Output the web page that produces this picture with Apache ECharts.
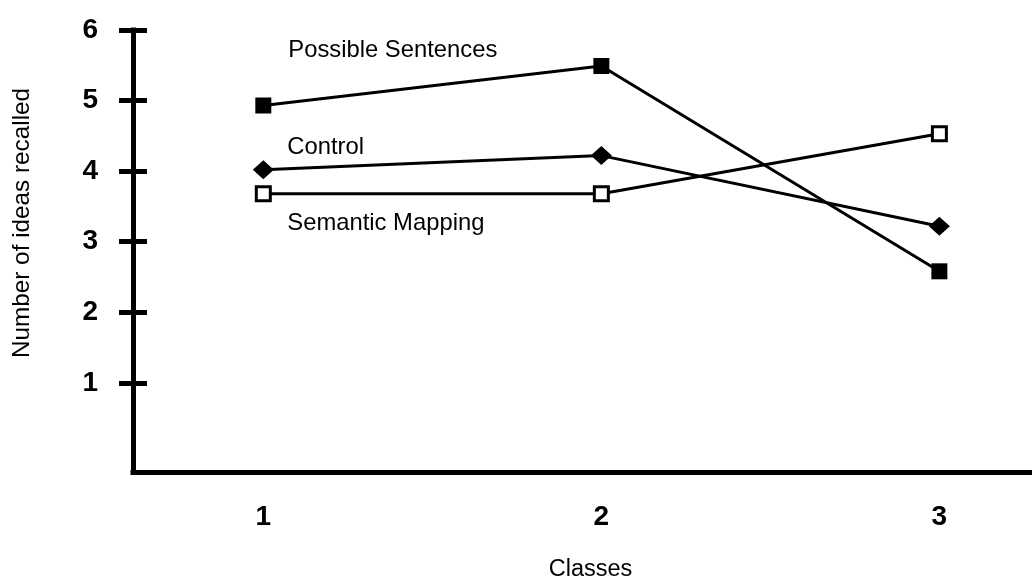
<!DOCTYPE html>
<html>
<head>
<meta charset="utf-8">
<script src="https://cdn.jsdelivr.net/npm/echarts@6/dist/echarts.min.js"></script>
<style>
html,body{margin:0;padding:0;background:#fff;}
#chart{width:1032px;height:587px;}
</style>
</head>
<body>
<div id="chart"></div>
<script>
// Data
var classes = [1, 2, 3];
var yTicks = [1, 2, 3, 4, 5, 6];
var seriesNames = ['Possible Sentences', 'Control', 'Semantic Mapping'];
var possibleSentences = [4.93, 5.49, 2.58];
var control = [4.02, 4.22, 3.22];
var semanticMapping = [3.68, 3.68, 4.53];

var FONT = '"Liberation Sans", Arial, Helvetica, sans-serif';

function build(values, name, labelOffset) {
  return values.map(function (v, i) {
    var item = { value: [classes[i], v] };
    if (i === 0) {
      item.label = {
        show: true,
        formatter: name,
        position: 'inside',
        align: 'left',
        verticalAlign: 'middle',
        offset: labelOffset,
        color: '#000',
        fontSize: 23.8,
        fontFamily: FONT
      };
    }
    return item;
  });
}

var chart = echarts.init(document.getElementById('chart'));
var option = {
  animation: false,
  backgroundColor: '#fff',
  grid: { left: 133, right: 0, top: 30, bottom: 106, containLabel: false },
  xAxis: {
    type: 'value',
    min: 0.6145,
    max: 3.274,
    splitLine: { show: false },
    axisTick: { show: false },
    axisLine: { show: true, onZero: false, lineStyle: { color: '#000', width: 5, cap: 'square' } },
    axisLabel: {
      customValues: classes,
      formatter: function (v) { return String(v); },
      color: '#000', fontSize: 28, fontWeight: 'bold', fontFamily: FONT, margin: 31
    },
    name: 'Classes',
    nameLocation: 'middle',
    nameGap: 86,
    nameTextStyle: { color: '#000', fontSize: 23.5, fontFamily: FONT, padding: [0, 0, 0, 16] }
  },
  yAxis: [{
    type: 'value',
    min: -0.264,
    max: 6,
    splitLine: { show: false },
    axisLine: { show: true, onZero: false, lineStyle: { color: '#000', width: 5, cap: 'square' } },
    axisTick: { show: true, customValues: yTicks, length: 14, lineStyle: { color: '#000', width: 5 } },
    axisLabel: {
      customValues: yTicks,
      formatter: function (v) { return String(v); },
      color: '#000', fontSize: 28, fontWeight: 'bold', fontFamily: FONT, margin: 35
    },
    name: 'Number of ideas recalled',
    nameLocation: 'middle',
    nameRotate: 90,
    nameGap: 99,
    nameTextStyle: { color: '#000', fontSize: 24.3, fontFamily: FONT, padding: [0, 0, 0, 56] }
  }, {
    type: 'value',
    position: 'left',
    min: -0.264,
    max: 6,
    splitLine: { show: false },
    axisLine: { show: false, onZero: false },
    axisLabel: { show: false },
    axisTick: { show: true, inside: true, customValues: yTicks, length: 14, lineStyle: { color: '#000', width: 5 } }
  }],
  series: [{
    name: seriesNames[0],
    type: 'line',
    data: build(possibleSentences, seriesNames[0], [25, -55]),
    symbol: 'rect',
    symbolSize: 16,
    itemStyle: { color: '#000' },
    lineStyle: { color: '#000', width: 3 },
    z: 3
  }, {
    name: seriesNames[1],
    type: 'line',
    data: build(control, seriesNames[1], [24, -22]),
    symbol: 'diamond',
    symbolSize: [21, 19],
    itemStyle: { color: '#000' },
    lineStyle: { color: '#000', width: 3 },
    z: 3
  }, {
    name: seriesNames[2],
    type: 'line',
    data: build(semanticMapping, seriesNames[2], [24, 30]),
    symbol: 'rect',
    symbolSize: 14,
    itemStyle: { color: '#fff', borderColor: '#000', borderWidth: 3 },
    lineStyle: { color: '#000', width: 3 },
    z: 3
  }]
};
chart.setOption(option);
</script>
</body>
</html>
